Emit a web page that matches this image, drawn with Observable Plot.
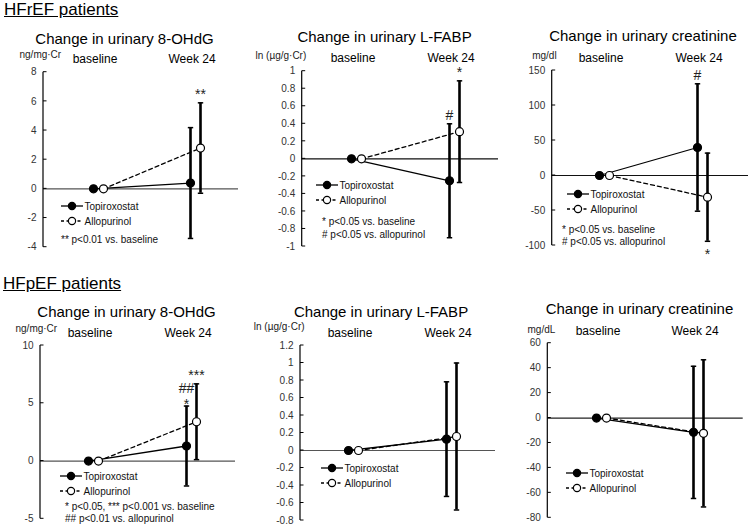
<!DOCTYPE html>
<html><head><meta charset="utf-8">
<script src="https://cdn.jsdelivr.net/npm/d3@7"></script>
<script src="https://cdn.jsdelivr.net/npm/@observablehq/plot@0.6"></script>
<style>
body{margin:0;background:#fff;font-family:"Liberation Sans",Arial,sans-serif;}
#wrap{position:relative;width:750px;height:527px;overflow:hidden;}
.panel{position:absolute;}
.hdr{position:absolute;font-size:17px;line-height:17px;text-decoration:underline;color:#000;white-space:nowrap;}
</style></head><body><div id="wrap">
<div class="hdr" style="left:4px;top:0.6px">HFrEF patients</div>
<div class="hdr" style="left:3px;top:274.6px">HFpEF patients</div>
</div>
<script>
const categories = ["baseline", "Week 24"];
const seriesNames = ["Topiroxostat", "Allopurinol"];

// HFrEF: urinary 8-OHdG (ng/mg·Cr)
const hfref8OHdGTopi = [0, 0.4];
const hfref8OHdGTopiSD = [null, 3.8];
const hfref8OHdGAllo = [0, 2.8];
const hfref8OHdGAlloSD = [null, 3.1];
const hfref8OHdGTicks = [-4, -2, 0, 2, 4, 6, 8];
const hfref8OHdGSig = [{series: "Allopurinol", labels: ["**"], side: "above"}];
const hfref8OHdGNotes = ["** p<0.01 vs. baseline"];

// HFrEF: urinary L-FABP (ln µg/g·Cr)
const hfrefLFABPTopi = [0, -0.25];
const hfrefLFABPTopiSD = [null, 0.65];
const hfrefLFABPAllo = [0, 0.31];
const hfrefLFABPAlloSD = [null, 0.58];
const hfrefLFABPTicks = [-1, -0.8, -0.6, -0.4, -0.2, 0, 0.2, 0.4, 0.6, 0.8, 1];
const hfrefLFABPSig = [{series: "Topiroxostat", labels: ["#"], side: "above"}, {series: "Allopurinol", labels: ["*"], side: "above"}];
const hfrefLFABPNotes = ["* p<0.05 vs. baseline", "# p<0.05 vs. allopurinol"];

// HFrEF: urinary creatinine (mg/dl)
const hfrefCreaTopi = [0, 40];
const hfrefCreaTopiSD = [null, 91];
const hfrefCreaAllo = [0, -31];
const hfrefCreaAlloSD = [null, 63];
const hfrefCreaTicks = [-100, -50, 0, 50, 100, 150];
const hfrefCreaSig = [{series: "Topiroxostat", labels: ["#"], side: "above"}, {series: "Allopurinol", labels: ["*"], side: "below"}];
const hfrefCreaNotes = ["* p<0.05 vs. baseline", "# p<0.05 vs. allopurinol"];

// HFpEF: urinary 8-OHdG (ng/mg·Cr)
const hfpef8OHdGTopi = [0, 1.3];
const hfpef8OHdGTopiSD = [null, 3.46];
const hfpef8OHdGAllo = [0, 3.4];
const hfpef8OHdGAlloSD = [null, 3.28];
const hfpef8OHdGTicks = [-5, 0, 5, 10];
const hfpef8OHdGSig = [{series: "Topiroxostat", labels: ["*", "##"], side: "above"}, {series: "Allopurinol", labels: ["***"], side: "above"}];
const hfpef8OHdGNotes = ["* p<0.05, *** p<0.001 vs. baseline", "## p<0.01 vs. allopurinol"];

// HFpEF: urinary L-FABP (ln µg/g·Cr)
const hfpefLFABPTopi = [0, 0.13];
const hfpefLFABPTopiSD = [null, 0.655];
const hfpefLFABPAllo = [0, 0.16];
const hfpefLFABPAlloSD = [null, 0.84];
const hfpefLFABPTicks = [-0.8, -0.6, -0.4, -0.2, 0, 0.2, 0.4, 0.6, 0.8, 1, 1.2];
const hfpefLFABPSig = [];
const hfpefLFABPNotes = [];

// HFpEF: urinary creatinine (mg/dL)
const hfpefCreaTopi = [0, -11.5];
const hfpefCreaTopiSD = [null, 53];
const hfpefCreaAllo = [0, -12.3];
const hfpefCreaAlloSD = [null, 59];
const hfpefCreaTicks = [-80, -60, -40, -20, 0, 20, 40, 60];
const hfpefCreaSig = [];
const hfpefCreaNotes = [];

const FONT = '"Liberation Sans", Arial, sans-serif';

function rowsOf(topi, topiSD, allo, alloSD) {
  const out = [];
  categories.forEach((c, i) => {
    out.push({category: c, series: seriesNames[0], value: topi[i], err: topiSD[i]});
    out.push({category: c, series: seriesNames[1], value: allo[i], err: alloSD[i]});
  });
  return out;
}

const panels = [
  {left: 0, top: 0, height: 260, mL: 43, mR: 12, mT: 71.7, mB: 13.3, pad: 0.495, align: 0.557,
   title: "Change in urinary 8-OHdG", titleX: 124, titleY: 43.3, unit: "ng/mg·Cr", unitX: 19, unitY: 58, catY: 62.5,
   legX: 61, legY: 206, notesX: 61, notesY: 242.5,
   rows: rowsOf(hfref8OHdGTopi, hfref8OHdGTopiSD, hfref8OHdGAllo, hfref8OHdGAlloSD), ticks: hfref8OHdGTicks, sig: hfref8OHdGSig, notes: hfref8OHdGNotes, zero: "#555"},
  {left: 250, top: 0, height: 260, mL: 51.7, mR: 2, mT: 70.7, mB: 14, pad: 0.4965, align: 0.552,
   title: "Change in urinary L-FABP", titleX: 134, titleY: 41.7, unit: "ln (µg/g·Cr)", unitX: 5, unitY: 59, catY: 61.7,
   legX: 66, legY: 185, notesX: 72, notesY: 225.2,
   rows: rowsOf(hfrefLFABPTopi, hfrefLFABPTopiSD, hfrefLFABPAllo, hfrefLFABPAlloSD), ticks: hfrefLFABPTicks, sig: hfrefLFABPSig, notes: hfrefLFABPNotes, zero: "#111"},
  {left: 500, top: 0, height: 260, mL: 51.7, mR: 2, mT: 70, mB: 15, pad: 0.4985, align: 0.534,
   title: "Change in urinary creatinine", titleX: 142.5, titleY: 40.7, unit: "mg/dl", unitX: 31.7, unitY: 58, catY: 61.7,
   legX: 67, legY: 194, notesX: 62, notesY: 232.8,
   rows: rowsOf(hfrefCreaTopi, hfrefCreaTopiSD, hfrefCreaAllo, hfrefCreaAlloSD), ticks: hfrefCreaTicks, sig: hfrefCreaSig, notes: hfrefCreaNotes, zero: "#111"},
  {left: 0, top: 260, height: 267, mL: 40, mR: 15, mT: 85, mB: 8.7, pad: 0.489, align: 0.547,
   title: "Change in urinary 8-OHdG", titleX: 126, titleY: 56.7, unit: "ng/mg·Cr", unitX: 15, unitY: 71, catY: 76,
   legX: 60, legY: 216, notesX: 65, notesY: 249.5,
   rows: rowsOf(hfpef8OHdGTopi, hfpef8OHdGTopiSD, hfpef8OHdGAllo, hfpef8OHdGAlloSD), ticks: hfpef8OHdGTicks, sig: hfpef8OHdGSig, notes: hfpef8OHdGNotes, zero: "#555"},
  {left: 250, top: 260, height: 267, mL: 50, mR: 5, mT: 85, mB: 7, pad: 0.492, align: 0.545,
   title: "Change in urinary L-FABP", titleX: 130.5, titleY: 56, unit: "ln (µg/g·Cr)", unitX: 3.3, unitY: 69, catY: 76,
   legX: 71, legY: 208, notesX: 71, notesY: 240,
   rows: rowsOf(hfpefLFABPTopi, hfpefLFABPTopiSD, hfpefLFABPAllo, hfpefLFABPAlloSD), ticks: hfpefLFABPTicks, sig: hfpefLFABPSig, notes: hfpefLFABPNotes, zero: "#555"},
  {left: 500, top: 260, height: 267, mL: 47.3, mR: 7.3, mT: 82.7, mB: 9.7, pad: 0.497, align: 0.544,
   title: "Change in urinary creatinine", titleX: 139, titleY: 53.3, unit: "mg/dL", unitX: 27, unitY: 72, catY: 74,
   legX: 66, legY: 213, notesX: 66, notesY: 245,
   rows: rowsOf(hfpefCreaTopi, hfpefCreaTopiSD, hfpefCreaAllo, hfpefCreaAlloSD), ticks: hfpefCreaTicks, sig: hfpefCreaSig, notes: hfpefCreaNotes, zero: "#222"}
];

// horizontal-dash symbol for error-bar caps
const capSymbol = {draw(ctx) { ctx.moveTo(-2.7, 0); ctx.lineTo(2.7, 0); }};

function decorations(cfg) {
  return (index, scales, values, dims) => {
    const g = d3.create("svg:g").attr("font-family", FONT).attr("text-anchor", "start");
    // vertical axis line
    g.append("line")
      .attr("x1", dims.marginLeft).attr("x2", dims.marginLeft)
      .attr("y1", dims.marginTop).attr("y2", dims.height - dims.marginBottom)
      .attr("stroke", "#000").attr("stroke-width", 1.2);
    // inner tick marks
    cfg.ticks.forEach(t => {
      const y = scales.y(t);
      g.append("line").attr("x1", dims.marginLeft).attr("x2", dims.marginLeft + 3.5)
        .attr("y1", y).attr("y2", y).attr("stroke", "#000").attr("stroke-width", 1);
    });
    // legend
    seriesNames.forEach((s, i) => {
      const y = cfg.legY + i * 15;
      const x0 = cfg.legX;
      g.append("line").attr("x1", x0).attr("x2", x0 + 22).attr("y1", y).attr("y2", y)
        .attr("stroke", "#000").attr("stroke-width", 1.3)
        .attr("stroke-dasharray", i ? "3,2.5" : null);
      g.append("circle").attr("cx", x0 + 11).attr("cy", y).attr("r", 3.6)
        .attr("fill", i ? "#fff" : "#000").attr("stroke", "#000").attr("stroke-width", 1.2);
      g.append("text").attr("x", x0 + 23.5).attr("y", y).attr("dy", "0.35em")
        .attr("text-anchor", "start")
        .attr("font-size", 10).attr("fill", "#111").text(s);
    });
    cfg.notes.forEach((n, i) => {
      g.append("text").attr("x", cfg.notesX).attr("y", cfg.notesY + i * 12.5)
        .attr("text-anchor", "start")
        .attr("font-size", 10).attr("fill", "#111").text(n);
    });
    return g.node();
  };
}

const wrap = document.getElementById("wrap");
panels.forEach(cfg => {
  const marks = [
    Plot.ruleY([0], {stroke: cfg.zero, strokeWidth: 1.2}),
    Plot.axisY(cfg.ticks, {tickSize: 0, tickPadding: 7, label: null, fontSize: 10, fill: "#333",
      tickFormat: d => String(Math.round(d * 10) / 10)}),
    Plot.text([cfg.title], {frameAnchor: "top-left", text: d => d, dx: cfg.titleX - cfg.mL, dy: cfg.titleY - cfg.mT,
      textAnchor: "middle", lineAnchor: "bottom", fontSize: 15, fill: "#000"}),
    Plot.text([cfg.unit], {frameAnchor: "top-left", text: d => d, dx: cfg.unitX - cfg.mL, dy: cfg.unitY - cfg.mT,
      textAnchor: "start", lineAnchor: "bottom", fontSize: 10, fill: "#222"}),
    Plot.text(categories, {x: d => d, text: d => d, frameAnchor: "top", dx: -3.5, dy: cfg.catY - cfg.mT,
      lineAnchor: "bottom", fontSize: 12, fill: "#000"})
  ];
  seriesNames.forEach((s, i) => {
    const dx = i ? 5 : -5;
    const rows = cfg.rows.filter(d => d.series === s);
    marks.push(
      Plot.line(rows, {x: "category", y: "value", dx, stroke: "#000", strokeWidth: 1.3,
        strokeDasharray: i ? "4,3" : null})
    );
  });
  seriesNames.forEach((s, i) => {
    const dx = i ? 5 : -5;
    const rows = cfg.rows.filter(d => d.series === s);
    const errRows = rows.filter(d => d.err != null);
    marks.push(
      Plot.ruleX(errRows, {x: "category", y1: d => d.value - d.err, y2: d => d.value + d.err, dx,
        stroke: "#000", strokeWidth: 2.6}),
      Plot.dot(errRows, {x: "category", y: d => d.value + d.err, dx, symbol: capSymbol, r: 3,
        fill: "none", stroke: "#000", strokeWidth: 1.5}),
      Plot.dot(errRows, {x: "category", y: d => d.value - d.err, dx, symbol: capSymbol, r: 3,
        fill: "none", stroke: "#000", strokeWidth: 1.5})
    );
    cfg.sig.filter(a => a.series === s).forEach(a => {
      const r = errRows[errRows.length - 1];
      const above = a.side === "above";
      a.labels.forEach((lab, k) => {
        marks.push(Plot.text([{...r, label: lab}], {
          x: "category", y: d => above ? d.value + d.err : d.value - d.err, text: "label", dx,
          dy: above ? (a.labels.length > 1 ? 3 : -4) - k * 16 : 7.5,
          lineAnchor: above ? "bottom" : "top", fontSize: 14, fill: "#222"
        }));
      });
    });
  });
  seriesNames.forEach((s, i) => {
    const dx = i ? 5 : -5;
    const rows = cfg.rows.filter(d => d.series === s);
    marks.push(Plot.dot(rows, {x: "category", y: "value", dx, r: 4, fill: i ? "#fff" : "#000",
      stroke: "#000", strokeWidth: 1.2}));
  });
  marks.push(decorations(cfg));

  const chart = Plot.plot({
    width: 250, height: cfg.height,
    marginLeft: cfg.mL, marginRight: cfg.mR, marginTop: cfg.mT, marginBottom: cfg.mB,
    style: {fontFamily: FONT, fontSize: "10px", background: "transparent", overflow: "visible"},
    x: {type: "point", domain: categories, padding: cfg.pad, align: cfg.align, axis: null},
    y: {domain: [cfg.ticks[0], cfg.ticks[cfg.ticks.length - 1]]},
    marks
  });
  chart.classList.add("panel");
  chart.style.position = "absolute";
  chart.style.left = cfg.left + "px";
  chart.style.top = cfg.top + "px";
  wrap.appendChild(chart);
});
</script>
</body></html>
